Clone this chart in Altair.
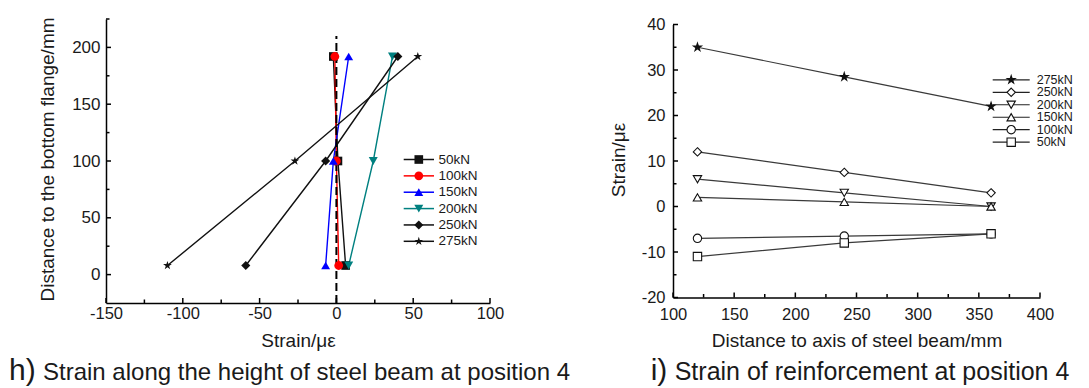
import altair as alt
import pandas as pd

# ---------------- panel h) : strain along the height of steel beam ----------------
h_loads = ["50kN", "100kN", "150kN", "200kN", "250kN", "275kN"]
h_heights = [192, 100, 8]
h_strain_50 = [-2, 1, 6]
h_strain_100 = [-1, 0, 1.5]
h_strain_150 = [8, -2, -7]
h_strain_200 = [36.5, 24, 8]
h_strain_250 = [40, -7, -59]
h_strain_275 = [53, -27, -110]
h_xticks = [-150, -100, -50, 0, 50, 100]
h_xminor = [-125, -75, -25, 25, 75]
h_yticks = [0, 50, 100, 150, 200]
h_yminor = [25, 75, 125, 175, 225]

# ---------------- panel i) : strain of reinforcement ----------------
i_loads = ["275kN", "250kN", "200kN", "150kN", "100kN", "50kN"]
i_dist = [120, 240, 360]
i_strain_275 = [35, 28.5, 22]
i_strain_250 = [12, 7.5, 3]
i_strain_200 = [6, 3, 0]
i_strain_150 = [2, 1, 0]
i_strain_100 = [-7, -6.5, -6]
i_strain_50 = [-11, -8, -6]
i_xticks = [100, 150, 200, 250, 300, 350, 400]
i_xminor = [125, 175, 225, 275, 325, 375]
i_yticks = [-20, -10, 0, 10, 20, 30, 40]
i_yminor = [-15, -5, 5, 15, 25, 35]

# ---------------- styles ----------------
FONT = "Liberation Sans"
TXT = "#1a1a1a"
PLAIN = "datum.value + ''"
STAR = ("M0,-1L0.225,-0.309L0.951,-0.309L0.363,0.118L0.588,0.809L0,0.382"
        "L-0.588,0.809L-0.363,0.118L-0.951,-0.309L-0.225,-0.309Z")
DIAM = "M0,-1L1,0L0,1L-1,0Z"

h_colors = ["#111111", "#ff0000", "#0000ff", "#008080", "#111111", "#111111"]
h_shapes = ["square", "circle", "triangle-up", "triangle-down", DIAM, STAR]
h_sizes = [75, 85, 100, 100, 100, 170]

i_fills = ["#111111", "white", "white", "white", "white", "white"]
i_shapes = [STAR, DIAM, "triangle-down", "triangle-up", "circle", "square"]
i_sizes = [70, 70, 60, 60, 50, 50]

# ---------------- tables ----------------
h_series = [h_strain_50, h_strain_100, h_strain_150, h_strain_200, h_strain_250, h_strain_275]
h_df = pd.DataFrame([{"load": l, "strain": s, "height": hh}
                     for l, vals in zip(h_loads, h_series)
                     for s, hh in zip(vals, h_heights)])
i_series = [i_strain_275, i_strain_250, i_strain_200, i_strain_150, i_strain_100, i_strain_50]
i_df = pd.DataFrame([{"load": l, "dist": d, "strain": s}
                     for l, vals in zip(i_loads, i_series)
                     for d, s in zip(i_dist, vals)])

# ================= panel h =================
W1, H1 = 384, 284
xh = alt.Scale(domain=[-150, 100], nice=False, zero=False)
yh = alt.Scale(domain=[-25, 225], nice=False, zero=False)
color_h = alt.Color("load:N", scale=alt.Scale(domain=h_loads, range=h_colors), legend=None)
shape_h = alt.Shape("load:N", scale=alt.Scale(domain=h_loads, range=h_shapes), legend=None)
size_h = alt.Size("load:N", scale=alt.Scale(domain=h_loads, range=h_sizes), legend=None)

x_axis_h = alt.Axis(values=h_xticks, labelExpr=PLAIN, ticks=False, tickSize=0, grid=False,
                    labelFlush=False, labelOverlap=False, labelPadding=2, labelFontSize=16.5,
                    labelFont=FONT, labelColor=TXT, domainColor="black", domainWidth=1.5,
                    title="Strain/με", titleFont=FONT, titleFontSize=19, titleFontWeight="normal",
                    titleColor=TXT, titleX=W1 / 2, titleY=43.5, titleBaseline="alphabetic",
                    titleAlign="center")
y_axis_h = alt.Axis(values=h_yticks, labelExpr=PLAIN, ticks=False, tickSize=0, grid=False,
                    labelOverlap=False, labelPadding=6, labelFontSize=17, labelFont=FONT,
                    labelColor=TXT, domainColor="black", domainWidth=1.5,
                    title="Distance to the bottom flange/mm", titleFont=FONT, titleFontSize=19,
                    titleFontWeight="normal", titleColor=TXT, titleX=-59, titleY=140,
                    titleAngle=270, titleBaseline="middle", titleAlign="center")

base_h = alt.Chart(h_df)
lines_h = base_h.mark_line(strokeWidth=1.4).encode(
    x=alt.X("strain:Q", scale=xh, axis=x_axis_h),
    y=alt.Y("height:Q", scale=yh, axis=y_axis_h),
    color=color_h, order=alt.Order("height:Q"))
points_h = base_h.mark_point(filled=True, opacity=1).encode(
    x="strain:Q", y="height:Q", color=color_h, shape=shape_h, size=size_h)
zero_h = alt.Chart(pd.DataFrame({"strain": [0], "height": [-25], "height2": [210]})).mark_rule(
    color="black", strokeWidth=2, strokeDash=[8, 4]).encode(
    x="strain:Q", y="height:Q", y2="height2:Q")
xt_h = alt.Chart(pd.DataFrame({"strain": h_xticks})).mark_rule(color="black", strokeWidth=1.5).encode(
    x="strain:Q", y=alt.value(H1), y2=alt.value(H1 - 5))
xm_h = alt.Chart(pd.DataFrame({"strain": h_xminor})).mark_rule(color="black", strokeWidth=1.5).encode(
    x="strain:Q", y=alt.value(H1), y2=alt.value(H1 - 3.5))
yt_h = alt.Chart(pd.DataFrame({"height": h_yticks})).mark_rule(color="black", strokeWidth=1.5).encode(
    y="height:Q", x=alt.value(0), x2=alt.value(5))
ym_h = alt.Chart(pd.DataFrame({"height": h_yminor})).mark_rule(color="black", strokeWidth=1.5).encode(
    y="height:Q", x=alt.value(0), x2=alt.value(3.5))

leg_h_df = pd.DataFrame({"load": h_loads, "row": list(range(len(h_loads)))})
leg_y_h = alt.Y("row:Q", scale=alt.Scale(domain=[0, len(h_loads) - 1], range=[140.5, 222.3],
                                         nice=False, zero=False), axis=None)
leg_rule_h = alt.Chart(leg_h_df).mark_rule(strokeWidth=1.5).encode(
    y=leg_y_h, x=alt.value(297.7), x2=alt.value(328), color=color_h)
leg_pt_h = alt.Chart(leg_h_df).mark_point(filled=True, opacity=1).encode(
    y=leg_y_h, x=alt.value(312.8), color=color_h, shape=shape_h, size=size_h)
leg_txt_h = alt.Chart(leg_h_df).mark_text(align="left", baseline="middle", font=FONT,
                                          fontSize=13.5, color=TXT).encode(
    y=leg_y_h, x=alt.value(332.6), text="load:N")

cap_h1 = alt.Chart(pd.DataFrame({"t": ["h)"]})).mark_text(
    align="left", baseline="alphabetic", font=FONT, fontSize=30, color=TXT).encode(
    x=alt.value(9 - 106), y=alt.value(378 - 17.5), text="t:N")
cap_h2 = alt.Chart(pd.DataFrame({"t": ["Strain along the height of steel beam at position 4"]})).mark_text(
    align="left", baseline="alphabetic", font=FONT, fontSize=24, color=TXT).encode(
    x=alt.value(43 - 106), y=alt.value(378 - 17.5), text="t:N")

panel_h = alt.layer(
    alt.layer(lines_h, zero_h, points_h, xt_h, xm_h, yt_h, ym_h),
    alt.layer(leg_rule_h, leg_pt_h, leg_txt_h),
    cap_h1, cap_h2,
).resolve_scale(y="independent").properties(width=W1, height=H1)

# ================= panel i =================
W2, H2 = 367, 284
Y0, Y1 = 278.5, 5.5
xi = alt.Scale(domain=[100, 400], nice=False, zero=False)
yi = alt.Scale(domain=[-20, 40], nice=False, zero=False, range=[Y0, Y1])
shape_i = alt.Shape("load:N", scale=alt.Scale(domain=i_loads, range=i_shapes), legend=None)
size_i = alt.Size("load:N", scale=alt.Scale(domain=i_loads, range=i_sizes), legend=None)
fill_i = alt.Fill("load:N", scale=alt.Scale(domain=i_loads, range=i_fills), legend=None)

x_axis_i = alt.Axis(values=i_xticks, labelExpr=PLAIN, ticks=False, tickSize=0, grid=False,
                    labelFlush=False, labelOverlap=False, labelPadding=9, labelFontSize=16.5,
                    labelFont=FONT, labelColor=TXT, domainColor="black", domainWidth=1.5,
                    offset=-(H2 - Y0),
                    title="Distance to axis of steel beam/mm", titleFont=FONT, titleFontSize=19,
                    titleFontWeight="normal", titleColor=TXT, titleX=W2 / 2, titleY=49,
                    titleBaseline="alphabetic", titleAlign="center")
y_axis_i = alt.Axis(values=i_yticks, labelExpr=PLAIN, ticks=False, tickSize=0, grid=False,
                    labelOverlap=False, labelPadding=8, labelFontSize=16.5, labelFont=FONT,
                    labelColor=TXT, domainColor="black", domainWidth=1.5,
                    title="Strain/με", titleFont=FONT, titleFontSize=19, titleFontWeight="normal",
                    titleColor=TXT, titleX=-54.3, titleY=140.5, titleAngle=270,
                    titleBaseline="middle", titleAlign="center")

base_i = alt.Chart(i_df)
lines_i = base_i.mark_line(strokeWidth=1.2, color="#3a3a3a").encode(
    x=alt.X("dist:Q", scale=xi, axis=x_axis_i),
    y=alt.Y("strain:Q", scale=yi, axis=y_axis_i),
    detail="load:N")
points_i = base_i.mark_point(filled=True, opacity=1, stroke="#111111", strokeWidth=1.1).encode(
    x="dist:Q", y="strain:Q", shape=shape_i, size=size_i, fill=fill_i)
xt_i = alt.Chart(pd.DataFrame({"dist": i_xticks})).mark_rule(color="black", strokeWidth=1.5).encode(
    x="dist:Q", y=alt.value(Y0), y2=alt.value(Y0 - 5))
xm_i = alt.Chart(pd.DataFrame({"dist": i_xminor})).mark_rule(color="black", strokeWidth=1.5).encode(
    x="dist:Q", y=alt.value(Y0), y2=alt.value(Y0 - 3.5))
yt_i = alt.Chart(pd.DataFrame({"strain": i_yticks})).mark_rule(color="black", strokeWidth=1.5).encode(
    y="strain:Q", x=alt.value(0), x2=alt.value(5))
ym_i = alt.Chart(pd.DataFrame({"strain": i_yminor})).mark_rule(color="black", strokeWidth=1.5).encode(
    y="strain:Q", x=alt.value(0), x2=alt.value(3.5))

leg_i_df = pd.DataFrame({"load": i_loads, "row": list(range(len(i_loads)))})
leg_y_i = alt.Y("row:Q", scale=alt.Scale(domain=[0, len(i_loads) - 1], range=[60.8, 123.2],
                                         nice=False, zero=False), axis=None)
leg_rule_i = alt.Chart(leg_i_df).mark_rule(strokeWidth=1.2, color="#222222").encode(
    y=leg_y_i, x=alt.value(319.7), x2=alt.value(356.7))
leg_pt_i = alt.Chart(leg_i_df).mark_point(filled=True, opacity=1, stroke="#111111", strokeWidth=1.1).encode(
    y=leg_y_i, x=alt.value(338.2), shape=shape_i, size=size_i, fill=fill_i)
leg_txt_i = alt.Chart(leg_i_df).mark_text(align="left", baseline="middle", font=FONT,
                                          fontSize=12.5, color=TXT).encode(
    y=leg_y_i, x=alt.value(363.7), text="load:N")

cap_i1 = alt.Chart(pd.DataFrame({"t": ["i)"]})).mark_text(
    align="left", baseline="alphabetic", font=FONT, fontSize=30, color=TXT).encode(
    x=alt.value(651 - 673.3), y=alt.value(378 - 17.5), text="t:N")
cap_i2 = alt.Chart(pd.DataFrame({"t": ["Strain of reinforcement at position 4"]})).mark_text(
    align="left", baseline="alphabetic", font=FONT, fontSize=25, color=TXT).encode(
    x=alt.value(675 - 673.3), y=alt.value(378 - 17.5), text="t:N")

panel_i = alt.layer(
    alt.layer(lines_i, points_i, xt_i, xm_i, yt_i, ym_i),
    alt.layer(leg_rule_i, leg_pt_i, leg_txt_i),
    cap_i1, cap_i2,
).resolve_scale(y="independent").properties(width=W2, height=H2)

chart = alt.hconcat(panel_h, panel_i, spacing=38).resolve_scale(
    color="independent", shape="independent", size="independent", fill="independent"
).configure_view(stroke=None).properties(
    padding={"left": 1, "top": 8, "right": 0, "bottom": 0}, background="white")

chart.save("out.html", embed_options={"renderer": "svg", "actions": False})
